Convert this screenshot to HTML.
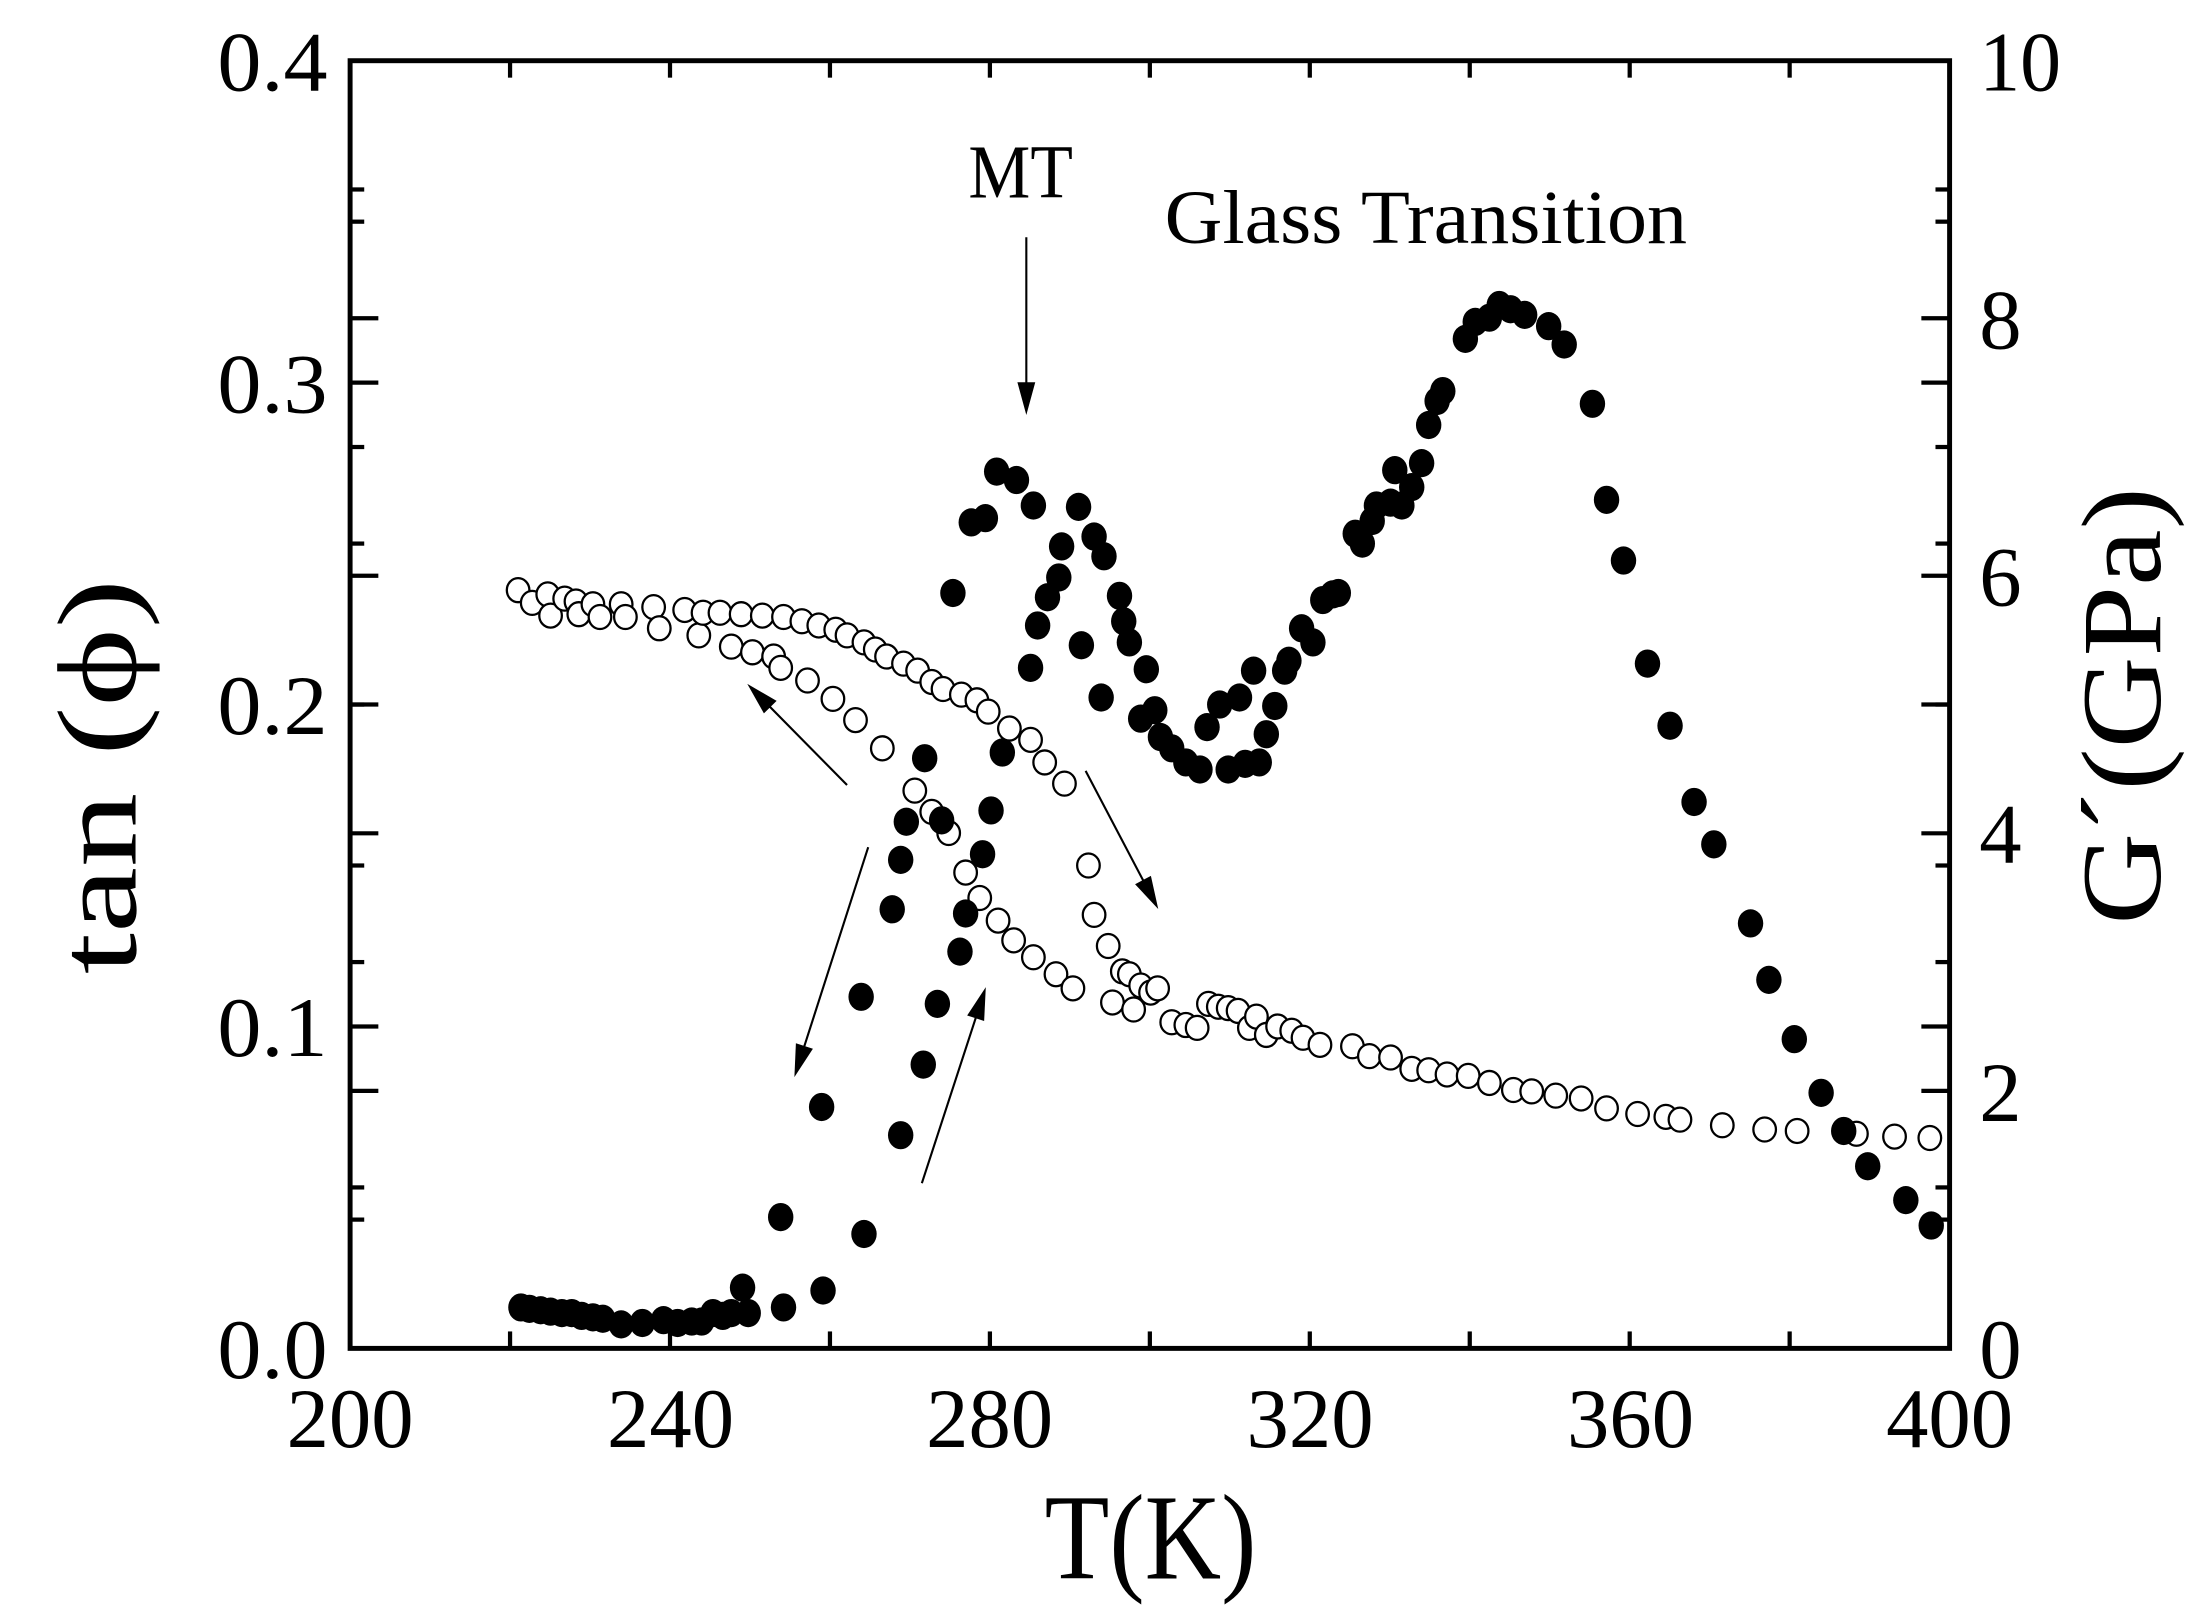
<!DOCTYPE html>
<html><head><meta charset="utf-8"><style>html,body{margin:0;padding:0;background:#fff}svg{display:block}</style></head>
<body>
<svg id="s" width="2191" height="1611" viewBox="0 0 1552 1141" preserveAspectRatio="none" xmlns="http://www.w3.org/2000/svg" font-family="Liberation Serif, serif">
<rect width="1552" height="1141" fill="#fff"/>
<g id="ticks" stroke="#000" stroke-width="3"></g>
<rect x="248" y="43" width="1133" height="912" fill="none" stroke="#000" stroke-width="3.5"/>
<g font-size="60" text-anchor="end">
<text x="232" y="976" textLength="78" lengthAdjust="spacingAndGlyphs">0.0</text>
<text x="232" y="748" textLength="78" lengthAdjust="spacingAndGlyphs">0.1</text>
<text x="232" y="520" textLength="78" lengthAdjust="spacingAndGlyphs">0.2</text>
<text x="232" y="292" textLength="78" lengthAdjust="spacingAndGlyphs">0.3</text>
<text x="232" y="64" textLength="78" lengthAdjust="spacingAndGlyphs">0.4</text>
</g>
<g font-size="60" text-anchor="start">
<text x="1402" y="976">0</text><text x="1402" y="794">2</text><text x="1402" y="611">4</text><text x="1402" y="429">6</text><text x="1402" y="247">8</text>
<text x="1402" y="64" textLength="58" lengthAdjust="spacingAndGlyphs">10</text>
</g>
<g font-size="60" text-anchor="middle">
<text x="248" y="1025">200</text><text x="475" y="1025">240</text><text x="701" y="1025">280</text><text x="928" y="1025">320</text><text x="1155" y="1025">360</text><text x="1381" y="1025">400</text>
</g>
<text x="740" y="1118" font-size="86" textLength="150" lengthAdjust="spacingAndGlyphs">T(K)</text>
<text transform="translate(96,690) rotate(-90)" font-size="80" textLength="280" lengthAdjust="spacingAndGlyphs">tan (ϕ)</text>
<text transform="translate(1530,655) rotate(-90)" font-size="80" textLength="310" lengthAdjust="spacingAndGlyphs">G´(GPa)</text>
<text x="686" y="140" font-size="54" textLength="74" lengthAdjust="spacingAndGlyphs">MT</text>
<text x="825" y="172" font-size="54" textLength="370" lengthAdjust="spacingAndGlyphs">Glass Transition</text>
<g stroke="#000" stroke-width="1.5" fill="#000" id="arrows"></g>
<g id="pts"></g>
</svg>
<script>
var NS="http://www.w3.org/2000/svg";
function el(p,t,a){var e=document.createElementNS(NS,t);for(var k in a)e.setAttribute(k,a[k]);p.appendChild(e);return e;}
var tk=document.getElementById('ticks');
function ht(y,len){el(tk,'line',{x1:248,y1:y,x2:248+len,y2:y});el(tk,'line',{x1:1381,y1:y,x2:1381-len,y2:y});}
for(var i=0;i<=8;i++){var y=955-i*114;ht(y,i%2==0?20:10);}
for(var i=0;i<=10;i++){var y=955-i*91.2;ht(y,i%2==0?20:10);}
for(var i=0;i<=10;i++){var x=248+i*113.3;el(tk,'line',{x1:x,y1:955,x2:x,y2:943});el(tk,'line',{x1:x,y1:43,x2:x,y2:55});}
var ar=document.getElementById('arrows');
function arrow(x1,y1,x2,y2){var dx=x2-x1,dy=y2-y1,L=Math.hypot(dx,dy),ux=dx/L,uy=dy/L;var h=22,w=6;
el(ar,'line',{x1:x1,y1:y1,x2:x2-ux*h*0.8,y2:y2-uy*h*0.8});
el(ar,'polygon',{points:[x2,y2,x2-ux*h-uy*w,y2-uy*h+ux*w,x2-ux*h+uy*w,y2-uy*h-ux*w].join(' '),'stroke-width':0.5});}
arrow(727,168,727,293);arrow(600,556,530,485);arrow(615,600,563,762);arrow(769,546,820,643);arrow(653,838,698,700);
var F=[[369,926],[375,927],[383,928],[390,929],[398,930],[405,930],[412,932],[420,933],[427,934],[440,938],[455,937],[470,935],[480,937],[490,936],[497,936],[505,930],[512,932],[518,930],[526,912],[530,930],[553,862],[555,926],[582,784],[583,914],[610,706],[612,874],[632,644],[638,804],[638,609],[654,754],[642,582],[655,537],[664,711],[667,581],[675,420],[680,674],[684,647],[688,370],[696,605],[698,367],[702,574],[706,334],[710,533],[720,340],[730,473],[732,358],[735,443],[742,423],[750,409],[752,387],[764,359],[766,457],[775,380],[780,494],[782,394],[793,422],[796,440],[800,455],[808,509],[812,474],[818,503],[822,522],[830,530],[840,540],[850,545],[855,515],[864,499],[870,545],[878,494],[882,541],[888,475],[892,540],[897,520],[903,500],[910,475],[913,468],[922,445],[930,455],[937,425],[944,421],[948,420],[960,378],[965,385],[972,369],[975,358],[985,356],[988,333],[993,358],[1000,345],[1007,328],[1012,301],[1018,284],[1022,277],[1038,240],[1045,228],[1055,225],[1062,216],[1070,219],[1080,223],[1097,231],[1108,244],[1128,286],[1138,354],[1150,397],[1167,470],[1183,514],[1200,568],[1214,598],[1240,654],[1253,694],[1271,736],[1290,774],[1306,801],[1323,826],[1350,850],[1368,868]];
var O=[[367,418],[377,427],[388,421],[390,436],[400,424],[408,426],[410,435],[420,428],[425,437],[440,428],[443,437],[463,430],[467,445],[485,432],[495,450],[498,434],[510,434],[518,458],[525,435],[533,462],[540,436],[548,465],[553,473],[555,437],[568,440],[572,482],[580,443],[590,495],[592,446],[600,450],[606,510],[612,455],[620,460],[625,530],[628,465],[640,470],[648,560],[650,475],[660,575],[660,483],[668,488],[672,590],[681,492],[684,618],[692,496],[694,636],[700,504],[707,652],[715,516],[718,666],[730,524],[732,678],[740,540],[748,690],[754,555],[760,700],[771,613],[775,648],[785,670],[788,710],[795,688],[800,690],[803,715],[808,698],[815,703],[820,700],[830,724],[840,726],[848,728],[856,711],[863,713],[870,714],[877,716],[885,728],[890,720],[897,733],[905,727],[915,730],[923,735],[935,740],[958,741],[970,748],[985,749],[1000,757],[1012,758],[1025,761],[1040,762],[1055,767],[1072,772],[1085,773],[1102,776],[1120,778],[1138,785],[1160,789],[1180,791],[1190,793],[1220,797],[1250,800],[1273,801],[1315,803],[1342,805],[1367,806]];
var g=document.getElementById('pts');
O.forEach(function(p){el(g,'ellipse',{cx:p[0],cy:p[1],rx:8,ry:8.5,fill:'#fff',stroke:'#000','stroke-width':1.6});});
F.forEach(function(p){el(g,'ellipse',{cx:p[0],cy:p[1],rx:9,ry:10,fill:'#000'});});
</script>
</body></html>
